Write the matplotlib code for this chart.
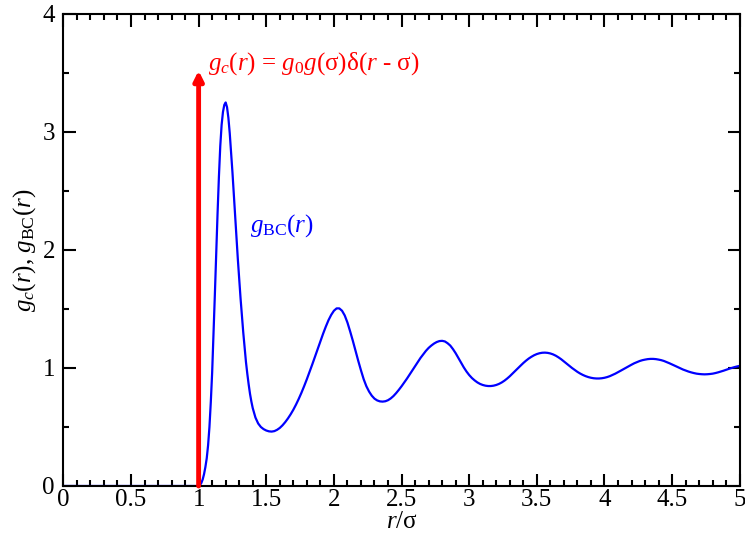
import matplotlib
matplotlib.use("Agg")
import matplotlib.pyplot as plt
from matplotlib.ticker import MultipleLocator, FuncFormatter

plt.rcParams['font.family'] = ['Liberation Serif', 'DejaVu Serif']
plt.rcParams['mathtext.fontset'] = 'custom'
plt.rcParams['mathtext.rm'] = 'Liberation Serif'
plt.rcParams['mathtext.it'] = 'Liberation Serif:italic'

# g_BC(r)
r_core = [0.0, 0.5, 1.0, 1.01, 1.02, 1.03, 1.04, 1.05, 1.06, 1.07, 1.08, 1.09,
          1.10, 1.11, 1.12, 1.13, 1.14, 1.15, 1.16, 1.17, 1.18, 1.19, 1.20,
          1.21, 1.22, 1.23, 1.24, 1.25, 1.26, 1.27, 1.28, 1.29, 1.30, 1.31,
          1.32, 1.33, 1.34, 1.35, 1.36, 1.37, 1.38, 1.39, 1.40]
g_core = [0.0, 0.0, 0.0, 0.008, 0.025, 0.055, 0.10, 0.16, 0.235, 0.345, 0.50,
          0.71, 0.96, 1.28, 1.62, 1.97, 2.31, 2.62, 2.88, 3.06, 3.17, 3.23,
          3.25, 3.21, 3.12, 2.99, 2.83, 2.66, 2.48, 2.29, 2.10, 1.92, 1.75,
          1.59, 1.44, 1.30, 1.17, 1.05, 0.95, 0.86, 0.78, 0.715, 0.66]

r_tail = [1.42, 1.44, 1.46, 1.48, 1.50, 1.52, 1.54, 1.56, 1.58, 1.60, 1.62,
          1.64, 1.66, 1.68, 1.70, 1.72, 1.74, 1.76, 1.78, 1.80, 1.82, 1.84,
          1.86, 1.88, 1.90, 1.92, 1.94, 1.96, 1.98, 2.00, 2.02, 2.04, 2.06,
          2.08, 2.10, 2.12, 2.14, 2.16, 2.18, 2.20, 2.22, 2.24, 2.26, 2.28,
          2.30, 2.32, 2.34, 2.36, 2.38, 2.40, 2.42, 2.44, 2.46, 2.48, 2.50,
          2.52, 2.54, 2.56, 2.58, 2.60, 2.62, 2.64, 2.66, 2.68, 2.70, 2.72,
          2.74, 2.76, 2.78, 2.80, 2.82, 2.84, 2.86, 2.88, 2.90, 2.92, 2.94,
          2.96, 2.98, 3.00, 3.02, 3.04, 3.06, 3.08, 3.10, 3.12, 3.14, 3.16,
          3.18, 3.20, 3.22, 3.24, 3.26, 3.28, 3.30, 3.32, 3.34, 3.36, 3.38,
          3.40, 3.42, 3.44, 3.46, 3.48, 3.50, 3.52, 3.54, 3.56, 3.58, 3.60,
          3.62, 3.64, 3.66, 3.68, 3.70, 3.72, 3.74, 3.76, 3.78, 3.80, 3.82,
          3.84, 3.86, 3.88, 3.90, 3.92, 3.94, 3.96, 3.98, 4.00, 4.02, 4.04,
          4.06, 4.08, 4.10, 4.12, 4.14, 4.16, 4.18, 4.20, 4.22, 4.24, 4.26,
          4.28, 4.30, 4.32, 4.34, 4.36, 4.38, 4.40, 4.42, 4.44, 4.46, 4.48,
          4.50, 4.52, 4.54, 4.56, 4.58, 4.60, 4.62, 4.64, 4.66, 4.68, 4.70,
          4.72, 4.74, 4.76, 4.78, 4.80, 4.82, 4.84, 4.86, 4.88, 4.90, 4.92,
          4.94, 4.96, 4.98, 5.00]
g_tail = [0.58, 0.53, 0.50, 0.482, 0.47, 0.463, 0.461, 0.465, 0.476, 0.492,
          0.514, 0.541, 0.572, 0.607, 0.646, 0.69, 0.738, 0.79, 0.846, 0.905,
          0.967, 1.03, 1.095, 1.16, 1.225, 1.29, 1.35, 1.405, 1.45, 1.485,
          1.505, 1.505, 1.485, 1.445, 1.385, 1.31, 1.23, 1.145, 1.06, 0.98,
          0.905, 0.845, 0.80, 0.765, 0.74, 0.725, 0.717, 0.715, 0.718, 0.727,
          0.742, 0.762, 0.787, 0.815, 0.845, 0.877, 0.91, 0.945, 0.98, 1.015,
          1.05, 1.085, 1.115, 1.145, 1.17, 1.19, 1.207, 1.22, 1.228, 1.23,
          1.225, 1.21, 1.19, 1.16, 1.125, 1.085, 1.045, 1.005, 0.97, 0.94,
          0.915, 0.895, 0.878, 0.865, 0.856, 0.85, 0.847, 0.847, 0.85, 0.856,
          0.865, 0.877, 0.892, 0.91, 0.93, 0.952, 0.975, 0.998, 1.02, 1.042,
          1.062, 1.08, 1.095, 1.108, 1.118, 1.125, 1.129, 1.13, 1.128, 1.123,
          1.115, 1.104, 1.09, 1.074, 1.056, 1.037, 1.018, 1.0, 0.983, 0.967,
          0.953, 0.941, 0.931, 0.923, 0.917, 0.913, 0.911, 0.911, 0.913, 0.917,
          0.923, 0.931, 0.941, 0.952, 0.964, 0.977, 0.99, 1.003, 1.016, 1.028,
          1.04, 1.05, 1.059, 1.066, 1.071, 1.075, 1.077, 1.077, 1.075, 1.071,
          1.066, 1.059, 1.05, 1.04, 1.03, 1.019, 1.008, 0.997, 0.987, 0.978,
          0.97, 0.963, 0.957, 0.952, 0.949, 0.947, 0.946, 0.947, 0.949, 0.952,
          0.957, 0.963, 0.97, 0.977, 0.985, 0.993, 1.0, 1.007, 1.013, 1.018]

r = r_core + r_tail
g_bc = g_core + g_tail

delta_pos = 1.0
delta_height = 3.52

fig = plt.figure(figsize=(7.45, 5.37), dpi=100)
ax = fig.add_axes([0.085, 0.095, 0.908, 0.879])

ax.plot(r, g_bc, color='blue', lw=1.6, zorder=2, solid_joinstyle='round')
ax.annotate('', xy=(delta_pos, delta_height), xytext=(delta_pos, 0),
            arrowprops=dict(arrowstyle='-|>', color='red', lw=3.5,
                            mutation_scale=14, shrinkA=0, shrinkB=0),
            zorder=3)

ax.text(1.07, 3.58, r'$g_c(r)$ = $g_0g$(σ)δ($r$ - σ)', color='red',
        fontsize=18, ha='left', va='center')
ax.text(1.38, 2.21, r'$g_{\mathrm{BC}}(r)$', color='blue', fontsize=18,
        ha='left', va='center')

ax.set_xlim(0, 5)
ax.set_ylim(0, 4)
ax.xaxis.set_major_locator(MultipleLocator(0.5))
ax.xaxis.set_minor_locator(MultipleLocator(0.1))
ax.yaxis.set_major_locator(MultipleLocator(1))
ax.yaxis.set_minor_locator(MultipleLocator(0.5))
ax.xaxis.set_major_formatter(FuncFormatter(lambda v, p: f'{v:g}'))
ax.yaxis.set_major_formatter(FuncFormatter(lambda v, p: f'{v:g}'))

ax.tick_params(which='both', direction='in', top=True, right=True,
               labelsize=18, width=1.5, colors='black')
ax.tick_params(which='major', length=9)
ax.tick_params(axis='x', which='major', pad=2)
ax.tick_params(axis='y', which='major', pad=6)
ax.tick_params(which='minor', length=4.5)
for s in ax.spines.values():
    s.set_linewidth(1.5)

ax.set_xlabel(r'$r$/σ', fontsize=18, labelpad=0)
ax.set_ylabel(r'$g_c(r)$, $g_{\mathrm{BC}}(r)$', fontsize=18, labelpad=3)

fig.savefig('out.png', dpi=100)
